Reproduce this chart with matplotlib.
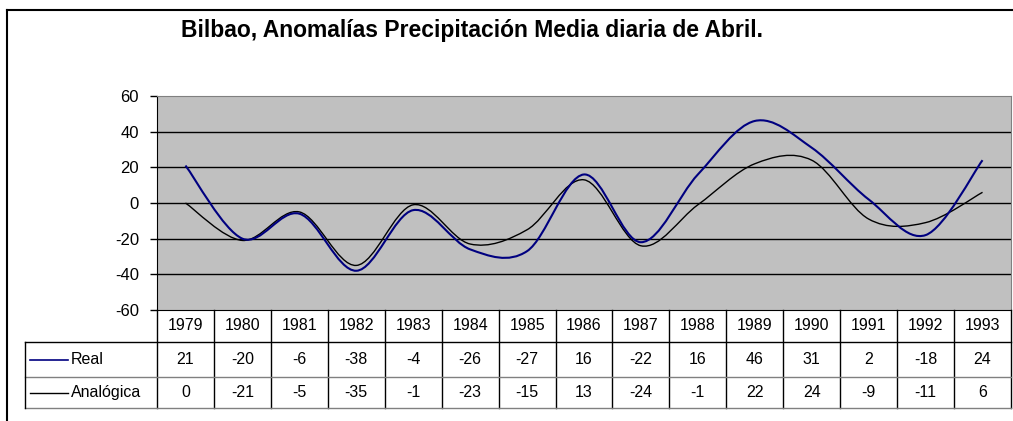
import numpy as np
import matplotlib
matplotlib.use("Agg")
import matplotlib.pyplot as plt
from matplotlib.path import Path
from matplotlib.patches import PathPatch
from matplotlib.lines import Line2D
from matplotlib.transforms import blended_transform_factory

years = ["1979", "1980", "1981", "1982", "1983", "1984", "1985", "1986",
         "1987", "1988", "1989", "1990", "1991", "1992", "1993"]
real = [21, -20, -6, -38, -4, -26, -27, 16, -22, 16, 46, 31, 2, -18, 24]
analogica = [0, -21, -5, -35, -1, -23, -15, 13, -24, -1, 22, 24, -9, -11, 6]
series_names = ["Real", "Analógica"]
series_colors = ["#000080", "black"]
title = "Bilbao, Anomalías Precipitación Media diaria de Abril."

plt.rcParams['font.family'] = ['Liberation Sans', 'DejaVu Sans']
plt.rcParams['axes.unicode_minus'] = False

W, H = 1013, 421
fig = plt.figure(figsize=(W / 100, H / 100), dpi=100)


def fx(px):
    return px / W


def fy(py):
    return 1 - py / H


# plot area in pixels
left, right, top, bottom = 157, 1011, 96, 310
ax = fig.add_axes([fx(left), fy(bottom), fx(right - left), fy(top) - fy(bottom)])
ax.set_facecolor("#C0C0C0")
ax.set_xlim(-0.5, len(years) - 0.5)
ax.set_ylim(-60, 60)
ax.set_yticks(range(-60, 61, 20))
ax.set_xticks([])
ax.tick_params(axis='y', length=5, width=1, pad=8, labelsize=12)
for y in range(-40, 41, 20):
    ax.axhline(y, color="black", lw=1, zorder=1)
for s in ["top", "right"]:
    ax.spines[s].set_color("#808080")
ax.spines["left"].set_color("black")
ax.spines["bottom"].set_color("black")


def smooth_path(vals):
    # Excel-like smoothed line: cubic Bezier segments through the points
    x = np.arange(len(vals), dtype=float)
    y = np.asarray(vals, dtype=float)
    n = len(vals)
    verts = [(x[0], y[0])]
    codes = [Path.MOVETO]
    for i in range(n - 1):
        p0 = (x[max(i - 1, 0)], y[max(i - 1, 0)])
        p1 = (x[i], y[i])
        p2 = (x[i + 1], y[i + 1])
        p3 = (x[min(i + 2, n - 1)], y[min(i + 2, n - 1)])
        c1 = (p1[0] + (p2[0] - p0[0]) / 6, p1[1] + (p2[1] - p0[1]) / 6)
        c2 = (p2[0] - (p3[0] - p1[0]) / 6, p2[1] - (p3[1] - p1[1]) / 6)
        verts += [c1, c2, p2]
        codes += [Path.CURVE4] * 3
    return Path(verts, codes)


ax.add_patch(PathPatch(smooth_path(analogica), fill=False, ec=series_colors[1], lw=1, zorder=3))
ax.add_patch(PathPatch(smooth_path(real), fill=False, ec=series_colors[0], lw=1.5, zorder=4))

# data table below the plot
tr = blended_transform_factory(ax.transData, fig.transFigure)
row_y = [bottom, 342, 377, 408]
n = len(years)
fs = 11.5


def fline(x0, x1, y0, y1, color="black", lw=1):
    fig.add_artist(Line2D([fx(x0), fx(x1)], [fy(y0), fy(y1)], color=color, lw=lw))


# column separators
for i in range(n + 1):
    xd = i - 0.5
    fig.add_artist(Line2D([xd, xd], [fy(row_y[0]), fy(row_y[3])], transform=tr,
                          color="black", lw=1, clip_on=False))
# horizontal lines
fline(25, right, row_y[1], row_y[1])
fline(25, right, row_y[2], row_y[2], color="#808080")
fline(25, right, row_y[3], row_y[3], color="#808080")
fline(25, 25, row_y[1], row_y[3])

for i, yr in enumerate(years):
    fig.text(i, fy((row_y[0] + row_y[1]) / 2), yr, transform=tr,
             ha="center", va="center", fontsize=fs)
for r, vals in enumerate([real, analogica]):
    yc = fy((row_y[r + 1] + row_y[r + 2]) / 2)
    for i, v in enumerate(vals):
        fig.text(i, yc, str(v), transform=tr, ha="center", va="center", fontsize=fs)
    fline(30, 68, (row_y[r + 1] + row_y[r + 2]) / 2, (row_y[r + 1] + row_y[r + 2]) / 2,
          color=series_colors[r], lw=1.2 if r == 0 else 1)
    fig.text(fx(71), yc, series_names[r], ha="left", va="center", fontsize=fs)

# title and outer chart border
fig.text(fx(472), fy(31), title, ha="center", va="center", fontsize=16.5, fontweight="bold")
fline(7, W, 10, 10, lw=1.5)
fline(7, 7, 10, H, lw=1.5)

fig.savefig("out.png", dpi=100)
